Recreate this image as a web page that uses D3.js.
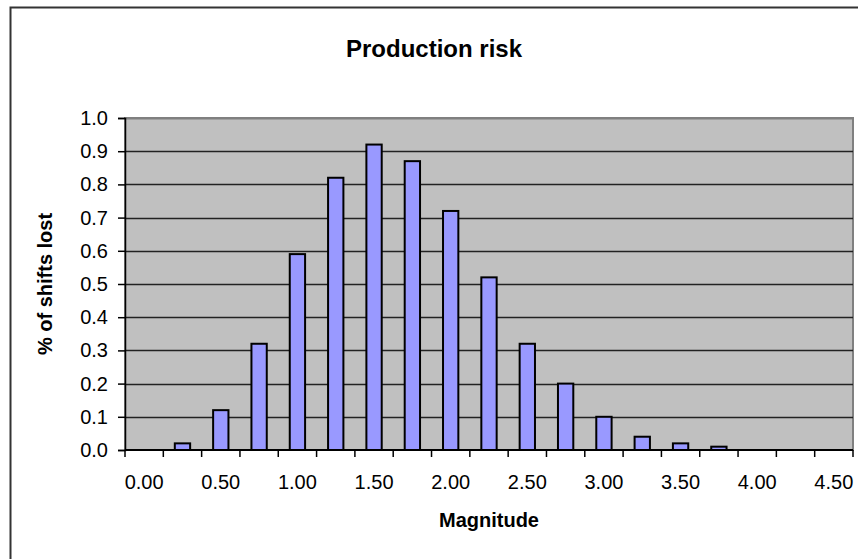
<!DOCTYPE html>
<html>
<head>
<meta charset="utf-8">
<script src="https://cdn.jsdelivr.net/npm/d3@7"></script>
<style>
  body { margin: 0; background: #fff; }
  text { font-family: Arial, "Liberation Sans", sans-serif; }
</style>
</head>
<body>
<div id="chart"></div>
<script>
var categories = ["0.00","0.25","0.50","0.75","1.00","1.25","1.50","1.75","2.00","2.25","2.50","2.75","3.00","3.25","3.50","3.75","4.00","4.25","4.50"];
var shiftsLost = [0, 0.02, 0.12, 0.32, 0.59, 0.82, 0.92, 0.87, 0.72, 0.52, 0.32, 0.20, 0.10, 0.04, 0.02, 0.01, 0, 0, 0];
var yTicks = [0, 0.1, 0.2, 0.3, 0.4, 0.5, 0.6, 0.7, 0.8, 0.9, 1.0];

var width = 858,
  height = 559;

var plot = {left: 125, right: 853, top: 118, bottom: 450};

var svg = d3.select("#chart")
  .append("svg")
  .attr("width", width)
  .attr("height", height);

// chart border
svg.append("rect")
  .attr("x", 10.5).attr("y", 7.5)
  .attr("width", 858).attr("height", 560)
  .attr("fill", "#fff")
  .attr("stroke", "#333")
  .attr("stroke-width", 2);

var x = d3.scaleBand()
  .domain(categories)
  .range([plot.left, plot.right])
  .paddingInner(0.6)
  .paddingOuter(0.3);

var xBand = d3.scaleBand()
  .domain(categories)
  .range([plot.left, plot.right]);

var y = d3.scaleLinear()
  .domain([0, 1])
  .range([plot.bottom, plot.top]);

// plot background
svg.append("rect")
  .attr("x", plot.left).attr("y", plot.top)
  .attr("width", plot.right - plot.left)
  .attr("height", plot.bottom - plot.top)
  .attr("fill", "#c0c0c0")
  .attr("stroke", "#808080")
  .attr("stroke-width", 2);

// gridlines
svg.append("g")
  .selectAll("line")
  .data(yTicks.slice(1))
  .enter().append("line")
  .attr("x1", plot.left).attr("x2", plot.right)
  .attr("y1", function(d) { return Math.round(y(d)) + 0.5; })
  .attr("y2", function(d) { return Math.round(y(d)) + 0.5; })
  .attr("stroke", function(d) { return d === 1 ? "#808080" : "#222"; })
  .attr("stroke-width", function(d) { return d === 1 ? 2 : 1.5; });

// bars
svg.append("g")
  .selectAll("rect")
  .data(shiftsLost.map(function(v, i) { return {cat: categories[i], value: v}; })
    .filter(function(d) { return d.value > 0; }))
  .enter().append("rect")
  .attr("x", function(d) { return x(d.cat); })
  .attr("width", x.bandwidth())
  .attr("y", function(d) { return y(d.value); })
  .attr("height", function(d) { return y(0) - y(d.value); })
  .attr("fill", "#9999ff")
  .attr("stroke", "#000")
  .attr("stroke-width", 2);

// y axis
var yAxis = d3.axisLeft(y)
  .tickValues(yTicks)
  .tickFormat(d3.format(".1f"))
  .tickSize(7)
  .tickPadding(10);

svg.append("g")
  .attr("transform", "translate(" + plot.left + ",0)")
  .call(yAxis)
  .call(function(g) {
    g.select(".domain").attr("stroke", "#000").attr("stroke-width", 1.5);
    g.selectAll(".tick line").attr("stroke", "#000").attr("stroke-width", 1.5);
    g.selectAll(".tick text").attr("font-size", 20).attr("fill", "#000")
      .style("font-family", "Arial, 'Liberation Sans', sans-serif");
  });

// x axis: ticks on category boundaries, labels every other category
var boundaries = d3.range(categories.length + 1).map(function(i) {
  return plot.left + i * xBand.step();
});

var xg = svg.append("g");
xg.append("line")
  .attr("x1", plot.left).attr("x2", plot.right)
  .attr("y1", plot.bottom).attr("y2", plot.bottom)
  .attr("stroke", "#000").attr("stroke-width", 2);
xg.selectAll(".tk")
  .data(boundaries)
  .enter().append("line")
  .attr("class", "tk")
  .attr("x1", function(d) { return d; }).attr("x2", function(d) { return d; })
  .attr("y1", plot.bottom).attr("y2", plot.bottom + 7)
  .attr("stroke", "#000").attr("stroke-width", 1.5);
xg.selectAll(".lbl")
  .data(categories.filter(function(c, i) { return i % 2 === 0; }))
  .enter().append("text")
  .attr("class", "lbl")
  .attr("x", function(d) { return xBand(d) + xBand.bandwidth() / 2; })
  .attr("y", plot.bottom + 39)
  .attr("text-anchor", "middle")
  .attr("font-size", 20)
  .text(function(d) { return d; });

// titles
svg.append("text")
  .attr("x", 434).attr("y", 57)
  .attr("text-anchor", "middle")
  .attr("font-size", 24).attr("font-weight", "bold")
  .text("Production risk");

svg.append("text")
  .attr("x", (plot.left + plot.right) / 2).attr("y", 527)
  .attr("text-anchor", "middle")
  .attr("font-size", 20).attr("font-weight", "bold")
  .text("Magnitude");

svg.append("text")
  .attr("transform", "translate(52," + (plot.top + plot.bottom) / 2 + ") rotate(-90)")
  .attr("text-anchor", "middle")
  .attr("font-size", 20).attr("font-weight", "bold")
  .text("% of shifts lost");
</script>
</body>
</html>
